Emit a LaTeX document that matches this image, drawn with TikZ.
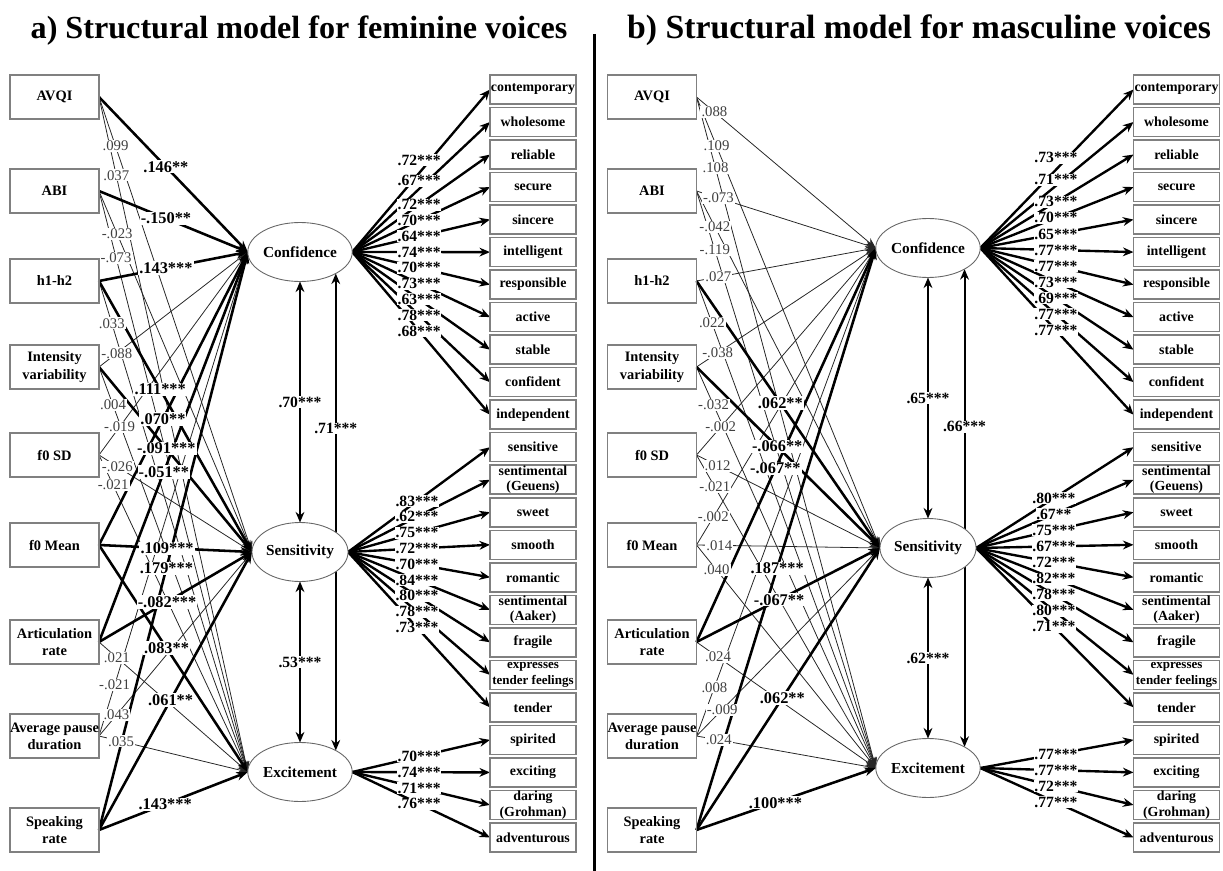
\documentclass[tikz,border=0pt]{standalone}
\usepackage{fontspec}
\setmainfont{Liberation Serif}
\usetikzlibrary{arrows.meta,shapes.geometric,calc}
\pgfdeclarelayer{bg}
\pgfsetlayers{bg,main}
\tikzset{
  pred/.style={draw=black!50, line width=0.85pt, minimum width=1.78cm, minimum height=0.88cm,
    inner sep=0pt, outer sep=0pt, align=center, font=\fontsize{8.2}{9.8}\selectfont\bfseries},
  ind/.style={draw=black!50, line width=0.85pt, minimum width=1.72cm, minimum height=0.58cm,
    inner sep=0pt, outer sep=0pt, align=center, font=\fontsize{7.9}{8.9}\selectfont\bfseries},
  ind18/.style={font=\fontsize{7.4}{8.9}\selectfont\bfseries},
  lat/.style={ellipse, draw=black!60, line width=0.5pt, fill=white, minimum width=1.78cm,
    minimum height=1.18cm, inner sep=0pt, outer sep=0pt, font=\fontsize{8.7}{10}\selectfont\bfseries},
  sig/.style={line width=1.45pt, -{Stealth[length=6.5pt,width=5pt]}},
  ns/.style={line width=0.45pt, black!85, -{Stealth[length=6pt,width=4.5pt]}},
  blab/.style={fill=white, inner sep=0.6pt, font=\fontsize{9.3}{10}\selectfont\bfseries},
  nlab/.style={fill=white, inner sep=0.6pt, text=black!75, font=\fontsize{8.4}{10}\selectfont},
  load/.style={line width=1.35pt, -{Stealth[length=6pt,width=5pt]}},
  llab/.style={fill=white, inner sep=0.4pt, font=\fontsize{8.9}{10}\selectfont\bfseries},
  cov/.style={line width=1.1pt, {Stealth[length=6pt,width=5pt]}-{Stealth[length=6pt,width=5pt]}},
  ttl/.style={anchor=base},
}
\newcommand\pth[6]{%
  \begin{pgfonlayer}{bg}\draw[#1] (#3.east) -- (#4.west);\end{pgfonlayer}
  \path (#3.east) -- (#4.west) node[#2,pos=#5] {#6};}
\newcommand\ldg[4]{%
  \begin{pgfonlayer}{bg}\draw[load] (#1.east) -- (#2.west);\end{pgfonlayer}
  \path (#1.east) -- (#2.west) node[llab,pos=#3] {#4};}
\begin{document}
\begin{tikzpicture}[x=0.02cm,y=-0.02cm]
\useasboundingbox (0,0) rectangle (1223,871);
\node[ttl, font=\fontsize{18.3}{22}\selectfont\bfseries] (tA) at (299,39) {a) Structural model for feminine voices};
\node[ttl, font=\fontsize{19.2}{22}\selectfont\bfseries] (tB) at (919,39) {b) Structural model for masculine voices};
\draw[line width=1.7pt] (594,34) -- (594,871);

% predictors
\foreach \n/\y/\t in {AVQI/97/AVQI, ABI/191/ABI, h/281/h1-h2, Int/367/{Intensity\\variability},
  SD/455/f0 SD, Mean/545/f0 Mean, Art/642/{Articulation\\rate}, Pause/736/{Average pause\\duration},
  SR/830/{Speaking\\rate}} {
  \node[pred] (L\n) at (54.5,\y) {\t};
  \node[pred] (R\n) at (652,\y) {\t};
}
% latents
\node[lat] (LConf) at (300,252) {Confidence};
\node[lat] (LSens) at (300,552) {Sensitivity};
\node[lat] (LExc) at (300,772) {Excitement};
\node[lat] (RConf) at (928,248) {Confidence};
\node[lat] (RSens) at (928,548) {Sensitivity};
\node[lat] (RExc) at (928,768) {Excitement};
% indicators
\foreach \t [count=\i from 0] in {contemporary, wholesome, reliable, secure, sincere, intelligent,
  responsible, active, stable, confident, independent, sensitive, {sentimental\\(Geuens)}, sweet,
  smooth, romantic, {sentimental\\(Aaker)}, fragile, {expresses\\tender feelings}, tender,
  spirited, exciting, {daring\\(Grohman)}, adventurous} {
  \node[ind,/tikz/ind\i/.try] (Li\i) at (533,{89.5+32.52*\i}) {\t};
  \node[ind,/tikz/ind\i/.try] (Ri\i) at (1176.5,{89.5+32.52*\i}) {\t};
}

% ---------- left loadings
\ldg{LConf}{Li0}{0.486,yshift=0.26cm}{.72***}
\ldg{LConf}{Li1}{0.486,yshift=0.16cm}{.67***}
\foreach \i/\l in {2/.72***,3/.70***,4/.64***,5/.74***,6/.70***,7/.73***,8/.63***,9/.78***,10/.68***}
  {\ldg{LConf}{Li\i}{0.486}{\l}}
\foreach \i/\l in {11/.83***,12/.62***,13/.75***,14/.72***,15/.70***,16/.84***,17/.80***,18/.78***,19/.73***}
  {\ldg{LSens}{Li\i}{0.486}{\l}}
\foreach \i/\l in {20/.70***,21/.74***,22/.71***,23/.76***}
  {\ldg{LExc}{Li\i}{0.486}{\l}}
% ---------- right loadings
\ldg{RConf}{Ri0}{0.494,yshift=0.24cm}{.73***}
\ldg{RConf}{Ri1}{0.494,yshift=0.12cm}{.71***}
\foreach \i/\l in {2/.73***,3/.70***,4/.65***,5/.77***,6/.77***,7/.73***,8/.69***,9/.77***,10/.77***}
  {\ldg{RConf}{Ri\i}{0.494}{\l}}
\foreach \i/\l in {11/.80***,12/.67**,13/.75***,14/.67***,15/.72***,16/.82***,17/.78***,18/.80***,19/.71***}
  {\ldg{RSens}{Ri\i}{0.494}{\l}}
\foreach \i/\l in {20/.77***,21/.77***,22/.72***,23/.77***}
  {\ldg{RExc}{Ri\i}{0.494}{\l}}

% ---------- covariances
\begin{pgfonlayer}{bg}
\draw[cov] (LConf.south) -- (LSens.north);
\draw[cov] (LSens.south) -- (LExc.north);
\draw[cov] (LConf.-31) -- (LConf.-31 |- LExc.31);
\draw[cov] (RConf.south) -- (RSens.north);
\draw[cov] (RSens.south) -- (RExc.north);
\draw[cov] (RConf.-30) -- (RConf.-30 |- RExc.30);
\end{pgfonlayer}
\path (LConf.south) -- (LSens.north) node[llab,midway] {.70***};
\path (LSens.south) -- (LExc.north) node[llab,midway] {.53***};
\path (LConf.-31) -- (LConf.-31 |- LExc.31) node[llab,pos=0.325] {.71***};
\path (RConf.south) -- (RSens.north) node[llab,midway] {.65***};
\path (RSens.south) -- (RExc.north) node[llab,midway] {.62***};
\path (RConf.-30) -- (RConf.-30 |- RExc.30) node[llab,pos=0.33] {.66***};

% ---------- left structural paths
\pth{ns}{nlab}{LAVQI}{LSens}{0.108}{.099}
\pth{ns}{nlab}{LAVQI}{LExc}{0.116}{.037}
\pth{ns}{nlab}{LABI}{LSens}{0.119}{-.023}
\pth{ns}{nlab}{LABI}{LExc}{0.115}{-.073}
\pth{ns}{nlab}{Lh}{LExc}{0.086}{.033}
\pth{ns}{nlab}{LInt}{LConf}{0.12}{-.088}
\pth{ns}{nlab}{LInt}{LExc}{0.094}{.004}
\pth{ns}{nlab}{LSD}{LConf}{0.138}{-.019}
\pth{ns}{nlab}{LSD}{LSens}{0.12}{-.026}
\pth{ns}{nlab}{LSD}{LExc}{0.095}{-.021}
\pth{ns}{nlab}{LArt}{LExc}{0.12}{.021}
\pth{ns}{nlab}{LPause}{LConf}{0.105}{-.021}
\pth{ns}{nlab}{LPause}{LSens}{0.114}{.043}
\pth{ns}{nlab}{LPause}{LExc}{0.148}{.035}
\pth{sig}{blab}{LAVQI}{LConf}{0.45}{.146**}
\pth{sig}{blab}{LABI}{LConf}{0.45}{-.150**}
\pth{sig}{blab}{Lh}{LConf}{0.45}{.143***}
\pth{sig}{blab}{Lh}{LSens}{0.40}{.111***}
\pth{sig}{blab}{LInt}{LSens}{0.44}{-.091***}
\pth{sig}{blab}{LMean}{LConf}{0.43}{.070**}
\pth{sig}{blab}{LMean}{LSens}{0.445}{.109***}
\pth{sig}{blab}{LMean}{LExc}{0.454}{.083**}
\pth{sig}{blab}{LArt}{LConf}{0.436}{-.051**}
\pth{sig}{blab}{LArt}{LSens}{0.445}{-.082***}
\pth{sig}{blab}{LSR}{LConf}{0.453}{.179***}
\pth{sig}{blab}{LSR}{LSens}{0.468}{.061**}
\pth{sig}{blab}{LSR}{LExc}{0.445}{.143***}

% ---------- right structural paths
\pth{ns}{nlab}{RAVQI}{RConf}{0.1}{.088}
\pth{ns}{nlab}{RAVQI}{RSens}{0.109}{.109}
\pth{ns}{nlab}{RAVQI}{RExc}{0.106}{.108}
\pth{ns}{nlab}{RABI}{RConf}{0.122}{-.073}
\pth{ns}{nlab}{RABI}{RSens}{0.10}{-.042}
\pth{ns}{nlab}{RABI}{RExc}{0.102}{-.119}
\pth{ns}{nlab}{Rh}{RConf}{0.122}{.027}
\pth{ns}{nlab}{Rh}{RExc}{0.086}{.022}
\pth{ns}{nlab}{RInt}{RConf}{0.118}{-.038}
\pth{ns}{nlab}{RInt}{RExc}{0.095}{-.032}
\pth{ns}{nlab}{RSD}{RConf}{0.135}{-.002}
\pth{ns}{nlab}{RSD}{RSens}{0.115}{.012}
\pth{ns}{nlab}{RSD}{RExc}{0.102}{-.021}
\pth{ns}{nlab}{RMean}{RConf}{0.094}{-.002}
\pth{ns}{nlab}{RMean}{RSens}{0.124}{.014}
\pth{ns}{nlab}{RMean}{RExc}{0.112}{.040}
\pth{ns}{nlab}{RArt}{RExc}{0.12}{.024}
\pth{ns}{nlab}{RPause}{RConf}{0.10}{.008}
\pth{ns}{nlab}{RPause}{RSens}{0.14}{-.009}
\pth{ns}{nlab}{RPause}{RExc}{0.124}{.024}
\pth{sig}{blab}{Rh}{RSens}{0.457}{.062**}
\pth{sig}{blab}{RInt}{RSens}{0.44}{-.066**}
\pth{sig}{blab}{RArt}{RConf}{0.44}{-.067**}
\pth{sig}{blab}{RArt}{RSens}{0.45}{-.067**}
\pth{sig}{blab}{RSR}{RConf}{0.45}{.187***}
\pth{sig}{blab}{RSR}{RSens}{0.468}{.062**}
\pth{sig}{blab}{RSR}{RExc}{0.44}{.100***}
\end{tikzpicture}
\end{document}
